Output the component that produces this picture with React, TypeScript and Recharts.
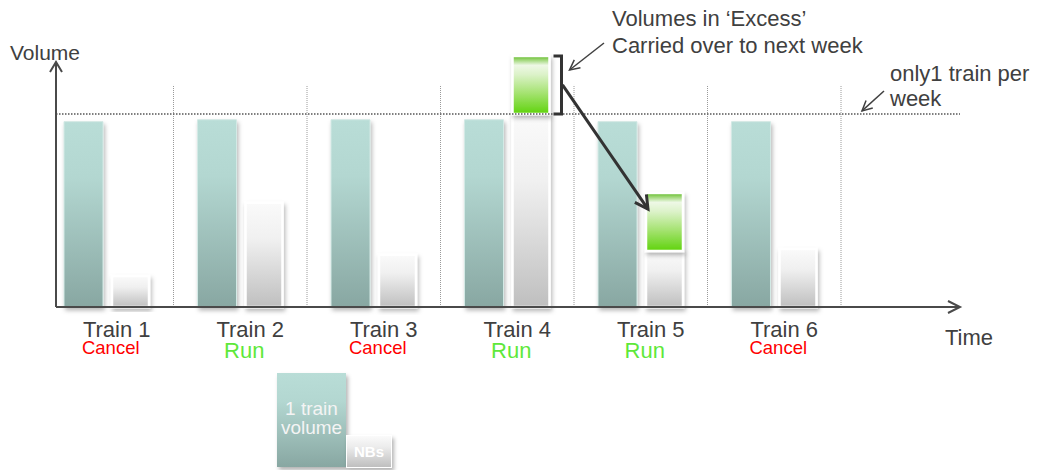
import React from 'react';
import { BarChart, Bar, XAxis, YAxis, ReferenceLine } from 'recharts';

// Weekly volumes per train slot
const trains = ['Train 1', 'Train 2', 'Train 3', 'Train 4', 'Train 5', 'Train 6'];
const outcomes = ['Cancel', 'Run', 'Cancel', 'Run', 'Run', 'Cancel'];
const trainVolume = [96, 97, 97, 97, 96, 96];
const nbsVolume = [16, 54, 27, 100, 29, 30];
const excessVolume = [0, 0, 0, 30, 30, 0];
const weeklyCapacity = 100;
const dividerTop = 115;
const yMax = 130;

const data = trains.map((train, i) => ({
  train,
  outcome: outcomes[i],
  trainVolume: trainVolume[i],
  nbs: nbsVolume[i],
  excess: excessVolume[i],
}));

// Chart geometry
const W = 1038;
const H = 470;
const Y_AXIS_W = 1;
const MARGIN = { top: 56, right: 78, bottom: 133, left: 55 };
const X_AXIS_H = 30;
const PAD = { left: -16, right: 119 };
const TEAL_W = 39;
const STACK_W = 37;
const GAP = 9;
const FONT = '"Liberation Sans", Arial, sans-serif';
const TEXT = '#404040';

const plotLeft = MARGIN.left + Y_AXIS_W;
const plotTop = MARGIN.top;
const plotW = W - plotLeft - MARGIN.right;
const plotH = H - MARGIN.top - MARGIN.bottom - X_AXIS_H;
const bandW = (plotW - PAD.left - PAD.right) / trains.length;
const bandStart = (i: number) => plotLeft + PAD.left + i * bandW;
const innerOffset = Math.floor((bandW - (TEAL_W + GAP + STACK_W)) / 2);
const stackX = (i: number) => bandStart(i) + innerOffset + TEAL_W + GAP;
const yPx = (v: number) => plotTop + plotH * (1 - v / yMax);

const TrainTick = (props: any) => {
  const { x, y, payload, index } = props;
  const outcome = outcomes[index];
  const run = outcome === 'Run';
  return (
    <g fontFamily={FONT}>
      <text x={x + 10} y={y + 30} textAnchor="middle" fontSize={22} fill={TEXT}>
        {payload.value}
      </text>
      <text
        x={x + 4}
        y={y + (run ? 51 : 47)}
        textAnchor="middle"
        fontSize={run ? 22 : 18.5}
        fill={run ? '#5ee83a' : '#ff0000'}
      >
        {outcome}
      </text>
    </g>
  );
};

function Annotations() {
  const excessIdx = excessVolume.map((v, i) => (v > 0 ? i : -1)).filter((i) => i >= 0);
  const from = excessIdx[0];
  const to = excessIdx[1];
  const bx = stackX(from) + STACK_W + 12;
  const bTop = yPx(nbsVolume[from] + excessVolume[from]);
  const bBot = yPx(nbsVolume[from]);
  const bMid = (bTop + bBot) / 2;
  const endX = stackX(to) + 2;
  const endY = yPx(nbsVolume[to] + excessVolume[to]) + 16;
  const capY = yPx(weeklyCapacity);
  return (
    <svg
      width={W}
      height={H}
      style={{ position: 'absolute', left: 0, top: 0, pointerEvents: 'none' }}
      fontFamily={FONT}
    >
      <defs>
        <marker id="bigHead" markerUnits="userSpaceOnUse" markerWidth="30" markerHeight="30" refX="0" refY="0" orient="auto" overflow="visible">
          <path d="M -13 -7 L 0 0 L -13 7" fill="none" stroke="#333" strokeWidth="3" />
        </marker>
        <marker id="thinHead" markerUnits="userSpaceOnUse" markerWidth="20" markerHeight="20" refX="0" refY="0" orient="auto" overflow="visible">
          <path d="M -10 -5 L 0 0 L -10 5" fill="none" stroke="#404040" strokeWidth="1.5" />
        </marker>
      </defs>
      <text x={10} y={60} fontSize={21} fill={TEXT}>Volume</text>
      <text x={945} y={345} fontSize={22} fill={TEXT}>Time</text>

      <text x={612} y={26} fontSize={22} fill={TEXT}>Volumes in ‘Excess’</text>
      <text x={612} y={53} fontSize={22} fill={TEXT}>Carried over to next week</text>
      <line x1={604} y1={43} x2={bx + 8} y2={bTop + 14} stroke="#404040" strokeWidth={1.5} markerEnd="url(#thinHead)" />

      <text x={890} y={81} fontSize={22} fill={TEXT}>only1 train per</text>
      <text x={890} y={106} fontSize={22} fill={TEXT}>week</text>
      <line x1={884} y1={91} x2={862} y2={capY - 3} stroke="#404040" strokeWidth={1.5} markerEnd="url(#thinHead)" />

      <path
        d={`M ${bx - 8} ${bTop} L ${bx} ${bTop} L ${bx} ${bBot} L ${bx - 8} ${bBot}`}
        fill="none"
        stroke="#333"
        strokeWidth={3}
      />
      <line x1={bx + 1} y1={bMid} x2={endX} y2={endY} stroke="#333" strokeWidth={3} markerEnd="url(#bigHead)" />
    </svg>
  );
}

export default function App() {
  return (
    <div style={{ position: 'absolute', left: 0, top: 0, width: W, height: H, background: '#fff', fontFamily: FONT }}>
      <BarChart width={W} height={H} data={data} margin={MARGIN} barGap={GAP} style={{ fontFamily: FONT }}>
        <defs>
          <linearGradient id="tealFill" x1="0" y1="0" x2="0" y2="1">
            <stop offset="0" stopColor="#b9ddd7" />
            <stop offset="0.3" stopColor="#b3d7d1" />
            <stop offset="1" stopColor="#88a7a2" />
          </linearGradient>
          <linearGradient id="greyFill" x1="0" y1="0" x2="0" y2="1">
            <stop offset="0" stopColor="#fafafa" />
            <stop offset="0.35" stopColor="#f0f0f0" />
            <stop offset="1" stopColor="#bfbfbf" />
          </linearGradient>
          <linearGradient id="greenFill" x1="0" y1="0" x2="0" y2="1">
            <stop offset="0" stopColor="#56b51c" />
            <stop offset="0.05" stopColor="#8fd062" />
            <stop offset="0.16" stopColor="#eef8e6" />
            <stop offset="0.32" stopColor="#dcf2c9" />
            <stop offset="0.65" stopColor="#a3e26e" />
            <stop offset="1" stopColor="#5fd30c" />
          </linearGradient>
          <filter id="barShadow" x="-30%" y="-10%" width="160%" height="125%">
            <feDropShadow dx="1.5" dy="3" stdDeviation="2" floodColor="#000" floodOpacity="0.28" />
          </filter>
          <marker id="arrowX" markerUnits="userSpaceOnUse" markerWidth="20" markerHeight="20" refX="0" refY="0" orient="auto" overflow="visible">
            <path d="M -12 -6 L 0 0 L -12 6" fill="none" stroke="#4a4a4a" strokeWidth="2" strokeDasharray="none" />
          </marker>
          <marker id="arrowY" markerUnits="userSpaceOnUse" markerWidth="20" markerHeight="20" refX="6" refY="0" orient="auto-start-reverse" overflow="visible">
            <path d="M -10 -6 L 0 0 L -10 6" fill="none" stroke="#4a4a4a" strokeWidth="2" strokeDasharray="none" />
          </marker>
        </defs>

        <XAxis
          dataKey="train"
          interval={0}
          height={X_AXIS_H}
          padding={PAD}
          tickLine={false}
          tickSize={0}
          tickMargin={0}
          tick={<TrainTick />}
          axisLine={{ stroke: '#4a4a4a', strokeWidth: 2, markerEnd: 'url(#arrowX)' }}
        />
        <YAxis
          type="number"
          domain={[0, yMax]}
          width={Y_AXIS_W}
          tick={false}
          tickLine={false}
          axisLine={{ stroke: '#4a4a4a', strokeWidth: 2, strokeDasharray: '0 6 1000', markerStart: 'url(#arrowY)' }}
        />

        {trains.map((t) => (
          <ReferenceLine
            key={t}
            segment={[{ x: t, y: 0 }, { x: t, y: dividerTop }]}
            position="end"
            stroke="#9a9a9a"
            strokeWidth={1}
            strokeDasharray="1 1"
          />
        ))}
        <ReferenceLine y={weeklyCapacity} stroke="#555" strokeWidth={1.5} strokeDasharray="1.5 1.5" />

        <Bar
          dataKey="trainVolume"
          stackId="train"
          barSize={TEAL_W}
          fill="url(#tealFill)"
          stroke="#d3e9e5"
          strokeWidth={1}
          filter="url(#barShadow)"
          isAnimationActive={false}
        />
        <Bar
          dataKey="nbs"
          stackId="week"
          barSize={STACK_W}
          fill="url(#greyFill)"
          stroke="#ffffff"
          strokeWidth={2.5}
          filter="url(#barShadow)"
          isAnimationActive={false}
        />
        <Bar
          dataKey="excess"
          stackId="week"
          barSize={STACK_W}
          fill="url(#greenFill)"
          stroke="#ffffff"
          strokeWidth={2.5}
          filter="url(#barShadow)"
          isAnimationActive={false}
        />
      </BarChart>

      <Annotations />

      {/* legend swatches */}
      <div
        style={{
          position: 'absolute',
          left: 277,
          top: 373,
          width: 69,
          height: 94,
          background: 'linear-gradient(#b9ddd7 0%, #b3d7d1 30%, #88a7a2 100%)',
          boxShadow: '2px 3px 4px rgba(0,0,0,0.3)',
          display: 'flex',
          alignItems: 'center',
          justifyContent: 'center',
          textAlign: 'center',
          color: '#f4f4f4',
          fontSize: 19,
          lineHeight: '19px',
        }}
      >
        <div style={{ marginTop: -4 }}>1 train<br />volume</div>
      </div>
      <div
        style={{
          position: 'absolute',
          left: 346,
          top: 435,
          width: 46,
          height: 33,
          boxSizing: 'border-box',
          border: '1px solid #fff',
          background: 'linear-gradient(#fafafa 0%, #ececec 35%, #bfbfbf 100%)',
          boxShadow: '2px 3px 4px rgba(0,0,0,0.3)',
          display: 'flex',
          alignItems: 'center',
          justifyContent: 'center',
          color: '#ffffff',
          fontWeight: 'bold',
          fontSize: 15,
        }}
      >
        NBs
      </div>
    </div>
  );
}
